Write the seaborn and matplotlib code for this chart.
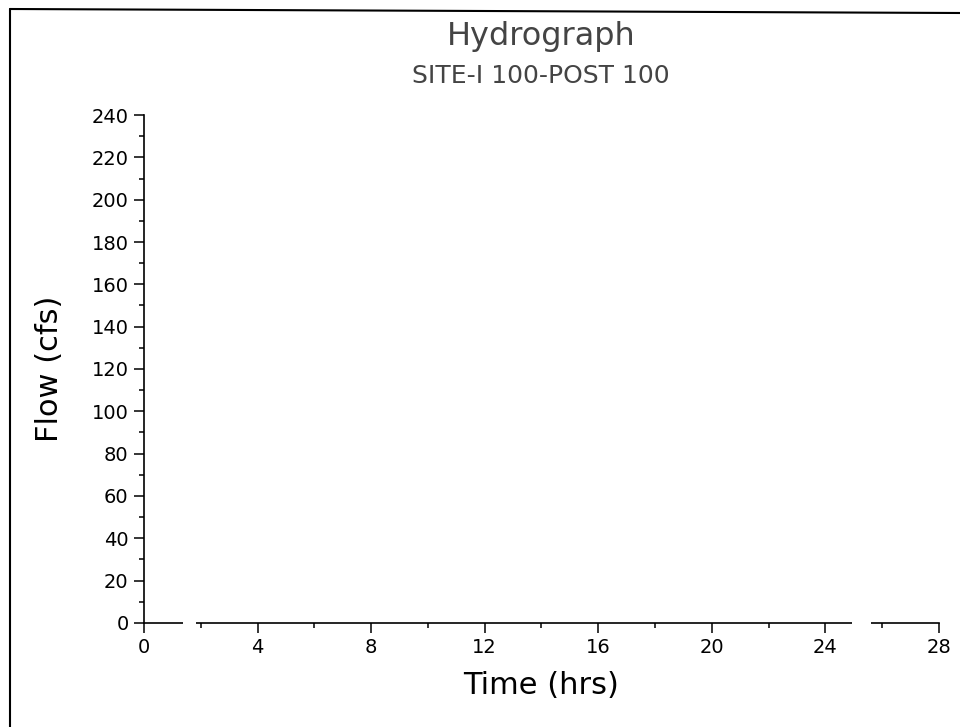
#!/usr/bin/env python3
"""Hydrograph for SITE-I 100-POST 100 (empty plot, axes only)."""

import matplotlib.pyplot as plt
import pandas as pd
import seaborn as sns
from matplotlib.lines import Line2D
from matplotlib.ticker import MultipleLocator

TITLE = "Hydrograph"
SUBTITLE = "SITE-I 100-POST 100"
X_LABEL = "Time (hrs)"
Y_LABEL = "Flow (cfs)"

# no flow data drawn in the reference
time_hrs = []
flow_cfs = []

x_ticks = [0, 4, 8, 12, 16, 20, 24, 28]
y_ticks = [0, 20, 40, 60, 80, 100, 120, 140, 160, 180, 200, 220, 240]

# breaks visible in the scanned time axis line
axis_gaps = [(1.37, 1.83), (24.93, 25.6)]


def main() -> None:
    sns.set_style("ticks")
    plt.rcParams["font.family"] = ["DejaVu Sans"]

    df = pd.DataFrame({"time": time_hrs, "flow": flow_cfs}, dtype=float)

    fig = plt.figure(figsize=(9.6, 7.27), dpi=100)
    ax = fig.add_axes([0.15, 0.1431, 0.828, 0.6987])

    if len(df):
        sns.lineplot(data=df, x="time", y="flow", color="black", ax=ax)

    ax.set_xlim(x_ticks[0], x_ticks[-1])
    ax.set_ylim(y_ticks[0], y_ticks[-1])
    ax.set_xticks(x_ticks)
    ax.set_yticks(y_ticks)
    ax.xaxis.set_minor_locator(MultipleLocator(2))
    ax.yaxis.set_minor_locator(MultipleLocator(10))
    ax.tick_params(axis="both", which="major", length=7, width=1.1,
                   color="black", labelsize=14, pad=4, labelcolor="black")
    ax.tick_params(axis="both", which="minor", length=3.5, width=1.1,
                   color="black")

    sns.despine(ax=ax)
    for side in ("left", "bottom"):
        ax.spines[side].set_linewidth(1.2)
        ax.spines[side].set_color("black")

    for x0, x1 in axis_gaps:
        ax.plot([x0, x1], [0, 0], color="white", lw=3, clip_on=False,
                solid_capstyle="butt", zorder=5)

    ax.set_xlabel(X_LABEL, fontsize=22, labelpad=10, color="black")
    ax.set_ylabel(Y_LABEL, fontsize=22, labelpad=20, color="black")

    fig.text(0.5635, 1 - 45 / 727, TITLE, fontsize=23, color="#444444",
             ha="center", va="baseline")
    fig.text(0.5635, 1 - 83 / 727, SUBTITLE, fontsize=18, color="#444444",
             ha="center", va="baseline")

    # page frame from the scan
    fig.add_artist(Line2D([10 / 960, 10 / 960], [1 - 9 / 727, 0.0],
                          transform=fig.transFigure, color="black", lw=1.5))
    fig.add_artist(Line2D([10 / 960, 1.0], [1 - 9 / 727, 1 - 13 / 727],
                          transform=fig.transFigure, color="black", lw=1.5))

    fig.savefig("out.png", dpi=100)


if __name__ == "__main__":
    main()
